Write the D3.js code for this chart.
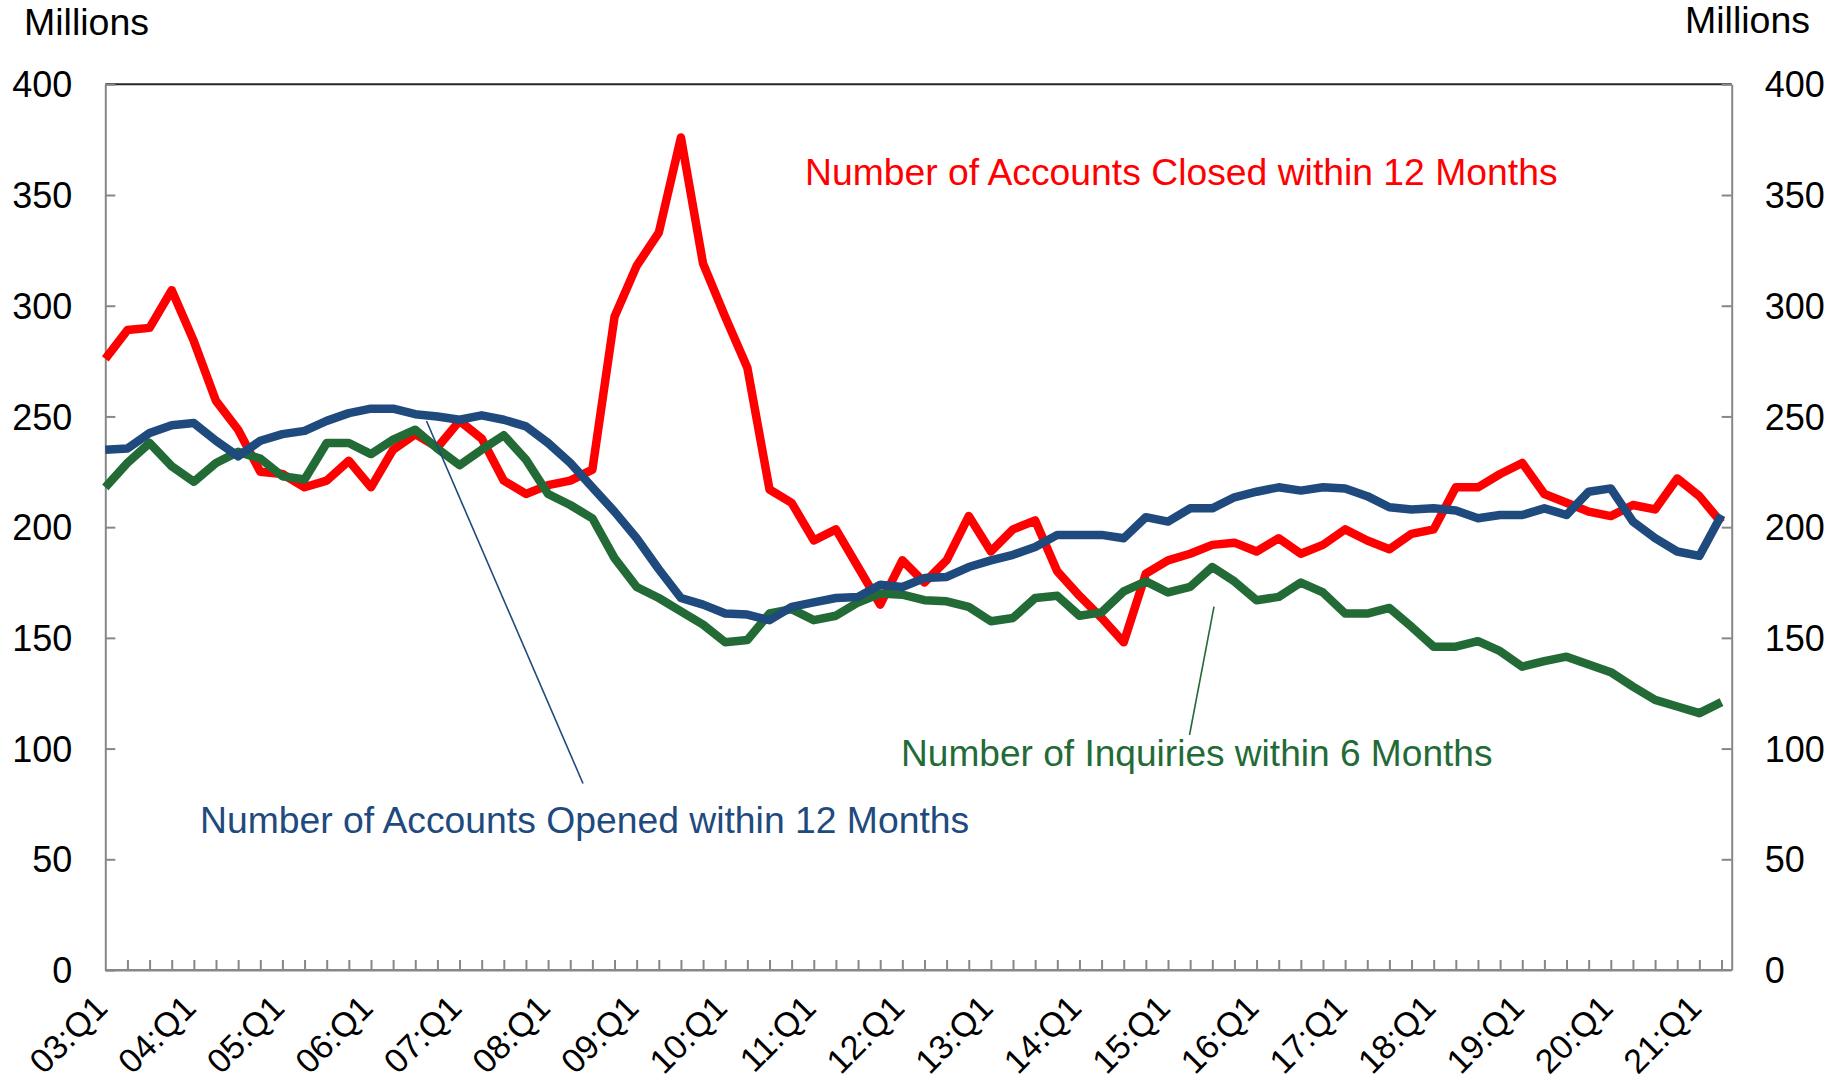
<!DOCTYPE html>
<html>
<head>
<meta charset="utf-8">
<script src="https://cdn.jsdelivr.net/npm/d3@7"></script>
<style>
  html, body { margin: 0; padding: 0; background: #fff; }
  svg { display: block; font-family: "Liberation Sans", Arial, sans-serif; }
</style>
</head>
<body>
<svg id="chart" width="1841" height="1084"></svg>
<script>
// ---- Data (quarterly, 03:Q1 .. 21:Q2), millions ----
const quarters = d3.range(0, 74).map(i => {
  const y = 3 + Math.floor(i / 4);
  return String(y).padStart(2, "0") + ":Q" + (i % 4 + 1);
});

const closed = [276, 289, 290, 307, 284, 257, 244, 225, 224, 218,
                221, 230, 218, 235, 242, 236, 248, 240, 221, 215,
                219, 221, 226, 295, 318, 333, 376, 319, 295, 272,
                217, 211, 194, 199, 182, 165, 185, 175, 185, 205,
                189, 199, 203, 180, 169, 159, 148, 179, 185, 188,
                192, 193, 189, 195, 188, 192, 199, 194, 190, 197,
                199, 218, 218, 224, 229, 215, 211, 207, 205, 210,
                208, 222, 214, 202];

const opened = [235, 235.5, 242.5, 246, 247, 239, 232, 239, 242, 243.5,
                248, 251.5, 253.5, 253.5, 251, 250, 248.5, 250.5, 248.5, 245.5,
                238, 229, 218, 207, 195, 181, 168, 165, 161, 160.5,
                158, 164, 166, 168, 168.5, 174, 173, 177, 177.5, 182,
                185, 187.5, 191, 196.5, 196.5, 196.5, 195, 204.5, 202.5, 208.5,
                208.5, 213.5, 216, 218, 216.5, 218, 217.5, 214, 209, 208,
                208.5, 207.5, 204, 205.5, 205.5, 208.5, 205.5, 216, 217.5, 202.5,
                195, 189, 187, 205.5];

const inquiries = [218, 229, 238, 227.5, 220.5, 229, 234, 231, 223, 221.5,
                   238, 238, 233, 239.5, 244, 235.5, 228, 235, 241.5, 230.5,
                   215, 210, 204, 186, 173, 168, 162, 156, 148, 149,
                   161, 163, 158, 160, 166, 170, 169.5, 167, 166.5, 164,
                   157.5, 159, 168, 169, 160, 161.5, 171, 175.5, 170.5, 173,
                   182, 175.5, 167, 168.5, 175, 170.5, 161, 161, 163.5, 155,
                   146, 146, 148.5, 144, 137, 139.5, 141.5, 138, 134.5, 128,
                   122, 119, 116, 121];

const yTicks = [0, 50, 100, 150, 200, 250, 300, 350, 400];
const xLabelEvery = 4;

const seriesNames = [
  "Number of Accounts Closed within 12 Months",
  "Number of Accounts Opened within 12 Months",
  "Number of Inquiries within 6 Months"
];

// ---- Layout ----
const svg = d3.select("#chart");
const L = 105.3, R = 1731.7, T = 84.3, B = 970;
const x = d3.scaleLinear().domain([0, 73]).range([L, 1721.5]);
const y = d3.scaleLinear().domain([0, 400]).range([B, T]);

const axisColor = "#878787";
const fontTick = 36;

// top border
svg.append("line").attr("x1", L).attr("x2", R).attr("y1", T).attr("y2", T)
  .attr("stroke", "#262626").attr("stroke-width", 2);

// left axis
const gL = svg.append("g").attr("transform", `translate(${L},0)`)
  .call(d3.axisLeft(y).tickValues(yTicks).tickSize(-10).tickPadding(33).tickSizeOuter(0));
// right axis
const gR = svg.append("g").attr("transform", `translate(${R},0)`)
  .call(d3.axisRight(y).tickValues(yTicks).tickSize(-10).tickPadding(33).tickSizeOuter(0));
// bottom axis
const gB = svg.append("g").attr("transform", `translate(0,${B})`)
  .call(d3.axisBottom(x).tickValues(d3.range(1, 74)).tickSize(-10).tickFormat("").tickSizeOuter(0));
// extend bottom axis line to right axis
svg.append("line").attr("x1", L).attr("x2", R).attr("y1", B).attr("y2", B)
  .attr("stroke", axisColor).attr("stroke-width", 2);

[gL, gR, gB].forEach(g => {
  g.select(".domain").attr("stroke", axisColor).attr("stroke-width", 2);
  g.selectAll(".tick line").attr("stroke", axisColor).attr("stroke-width", 2);
  g.selectAll(".tick text").attr("fill", "#000").attr("font-size", fontTick)
    .attr("font-family", "Liberation Sans, Arial, sans-serif").attr("dy", "0.35em");
});

// x labels rotated
svg.append("g").selectAll("text")
  .data(quarters.map((q, i) => ({q, i})).filter(d => d.i % xLabelEvery === 0))
  .join("text")
  .attr("transform", d => `translate(${x(d.i) + 4},${B + 40}) rotate(-45)`)
  .attr("text-anchor", "end")
  .attr("font-size", 34)
  .attr("fill", "#000")
  .text(d => d.q);

// Millions labels
svg.append("text").attr("x", 24).attr("y", 35).attr("font-size", 37.5).text("Millions");
svg.append("text").attr("x", 1685).attr("y", 33).attr("font-size", 37.5).text("Millions");

// lines
const line = d3.line().x((d, i) => x(i)).y(d => y(d));
const series = [
  {v: closed, c: "#FF0000"},
  {v: inquiries, c: "#236B36"},
  {v: opened, c: "#1F4A7E"}
];
svg.append("g").selectAll("path").data(series).join("path")
  .attr("d", d => line(d.v))
  .attr("fill", "none")
  .attr("stroke", d => d.c)
  .attr("stroke-width", 8.5)
  .attr("stroke-linejoin", "round");

// leader lines
svg.append("line").attr("x1", 426.5).attr("y1", 421).attr("x2", 583).attr("y2", 783.5)
  .attr("stroke", "#1F4A7E").attr("stroke-width", 1.6);
svg.append("line").attr("x1", 1214).attr("y1", 606.7).attr("x2", 1189.5).attr("y2", 735)
  .attr("stroke", "#236B36").attr("stroke-width", 1.6);

// series labels
svg.append("text").attr("x", 805).attr("y", 185).attr("font-size", 37.3)
  .attr("fill", "#FF0000").text(seriesNames[0]);
svg.append("text").attr("x", 200).attr("y", 833).attr("font-size", 37.3)
  .attr("fill", "#1F4A7E").text(seriesNames[1]);
svg.append("text").attr("x", 901).attr("y", 766).attr("font-size", 37.1)
  .attr("fill", "#236B36").text(seriesNames[2]);
</script>
</body>
</html>
